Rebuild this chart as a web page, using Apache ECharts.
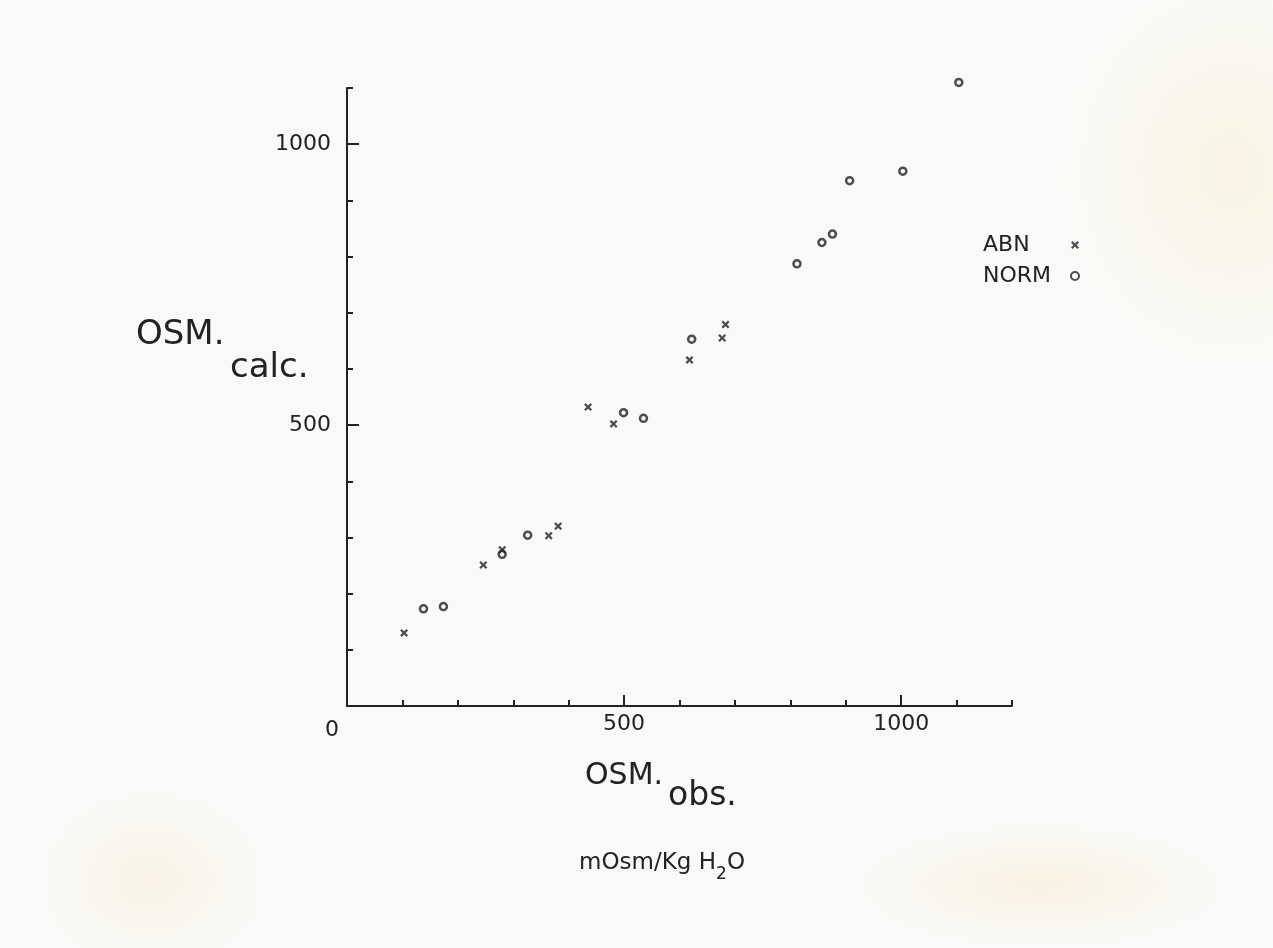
<!DOCTYPE html>
<html>
<head>
<meta charset="utf-8">
<script src="https://cdn.jsdelivr.net/npm/echarts@6/dist/echarts.min.js"></script>
<style>
  html, body { margin: 0; padding: 0; width: 1273px; height: 948px; overflow: hidden; }
  body {
    background-color: #f9faf8;
    background-image:
      radial-gradient(ellipse 170px 200px at 1230px 170px, rgba(250,236,195,0.40), rgba(250,236,195,0) 100%),
      radial-gradient(ellipse 180px 60px at 1040px 885px, rgba(248,230,190,0.40), rgba(248,230,190,0) 100%),
      radial-gradient(ellipse 110px 90px at 150px 880px, rgba(248,230,195,0.35), rgba(248,230,195,0) 100%);
  }
  #chart { width: 1273px; height: 948px; }
</style>
</head>
<body>
<div id="chart"></div>
<script>
// ---- data ----
const abnObs   = [103, 246, 280, 364, 381, 435, 481, 618, 677, 683];
const abnCalc  = [130, 251, 278, 303, 320, 532, 502, 616, 655, 679];
const normObs  = [138, 174, 280, 326, 499, 535, 622, 812, 857, 876, 907, 1003, 1104];
const normCalc = [173, 177, 270, 304, 522, 512, 653, 787, 825, 840, 935, 952, 1110];
const seriesNames = ['ABN', 'NORM'];
const xLabelValues = [0, 500, 1000];
const yLabelValues = [500, 1000];
const majorTicks = [500, 1000];

const INK = '#222222';
const FONT = '"DejaVu Sans", sans-serif';
const crossPath = 'path://M0,2 L2,0 L5,3 L8,0 L10,2 L7,5 L10,8 L8,10 L5,7 L2,10 L0,8 L3,5 Z';

const toPairs = (xs, ys) => xs.map((x, i) => [x, ys[i]]);

const chart = echarts.init(document.getElementById('chart'), null, { renderer: 'canvas' });

const baseAxis = {
  type: 'value',
  interval: 100,
  splitLine: { show: false },
  axisLine: { show: true, onZero: false, lineStyle: { color: INK, width: 2 } },
  axisTick: { show: true, inside: true, length: 6, lineStyle: { color: INK, width: 2 } }
};

const option = {
  backgroundColor: 'transparent',
  animation: false,
  grid: { left: 347, top: 88, right: 261, bottom: 242, containLabel: false },
  xAxis: [
    Object.assign({}, baseAxis, {
      min: 0, max: 1200,
      axisLabel: {
        show: true, margin: 7, color: INK, fontFamily: FONT, fontSize: 22,
        formatter: v => v === 0 ? '{z|0}' : (xLabelValues.indexOf(v) >= 0 ? String(v) : ''),
        rich: { z: { fontFamily: FONT, fontSize: 22, color: INK, padding: [6, 30, 0, 0] } }
      }
    }),
    {
      type: 'value', min: 0, max: 1200, position: 'bottom', interval: 100,
      splitLine: { show: false },
      axisLine: { show: false, onZero: false },
      axisLabel: { show: false },
      axisTick: { show: true, inside: true, length: 11, customValues: majorTicks, lineStyle: { color: INK, width: 2 } }
    }
  ],
  yAxis: [
    Object.assign({}, baseAxis, {
      min: 0, max: 1100,
      axisLabel: {
        show: true, margin: 16, color: INK, fontFamily: FONT, fontSize: 22,
        formatter: v => yLabelValues.indexOf(v) >= 0 ? String(v) : ''
      }
    }),
    {
      type: 'value', min: 0, max: 1100, position: 'left', interval: 100,
      splitLine: { show: false },
      axisLine: { show: false, onZero: false },
      axisLabel: { show: false },
      axisTick: { show: true, inside: true, length: 12, customValues: majorTicks, lineStyle: { color: INK, width: 2 } }
    }
  ],
  legend: {
    data: seriesNames,
    orient: 'vertical',
    left: 978, top: 229,
    align: 'right',
    itemWidth: 8, itemHeight: 8, itemGap: 9,
    formatter: '{t|{name}}',
    textStyle: {
      color: INK, fontFamily: FONT, fontSize: 22, lineHeight: 22,
      rich: { t: { width: 83, align: 'left', color: INK, fontFamily: FONT, fontSize: 22, lineHeight: 22 } }
    }
  },
  series: [
    {
      name: seriesNames[0], type: 'scatter', xAxisIndex: 0, yAxisIndex: 0,
      symbol: crossPath, symbolSize: 8, clip: false,
      itemStyle: { color: INK },
      data: toPairs(abnObs, abnCalc)
    },
    {
      name: seriesNames[1], type: 'scatter', xAxisIndex: 0, yAxisIndex: 0,
      symbol: 'circle', symbolSize: 7, clip: false,
      itemStyle: { color: 'rgba(255,255,255,0)', borderColor: INK, borderWidth: 2.5 },
      data: toPairs(normObs, normCalc)
    }
  ],
  graphic: [
    { type: 'text', left: 136, top: 318, style: { text: 'OSM.', fill: INK, font: '34px "DejaVu Sans", sans-serif' } },
    { type: 'text', left: 230, top: 351, style: { text: 'calc.', fill: INK, font: '34px "DejaVu Sans", sans-serif' } },
    { type: 'text', left: 585, top: 761, style: { text: 'OSM.', fill: INK, font: '30px "DejaVu Sans", sans-serif' } },
    { type: 'text', left: 668, top: 780, style: { text: 'obs.', fill: INK, font: '33px "DejaVu Sans", sans-serif' } },
    { type: 'text', left: 579, top: 852, style: { text: 'mOsm/Kg H', fill: INK, font: '23px "DejaVu Sans", sans-serif' } },
    { type: 'text', left: 716, top: 866, style: { text: '2', fill: INK, font: '17px "DejaVu Sans", sans-serif' } },
    { type: 'text', left: 727, top: 852, style: { text: 'O', fill: INK, font: '23px "DejaVu Sans", sans-serif' } }
  ]
};

chart.setOption(option);
</script>
</body>
</html>
